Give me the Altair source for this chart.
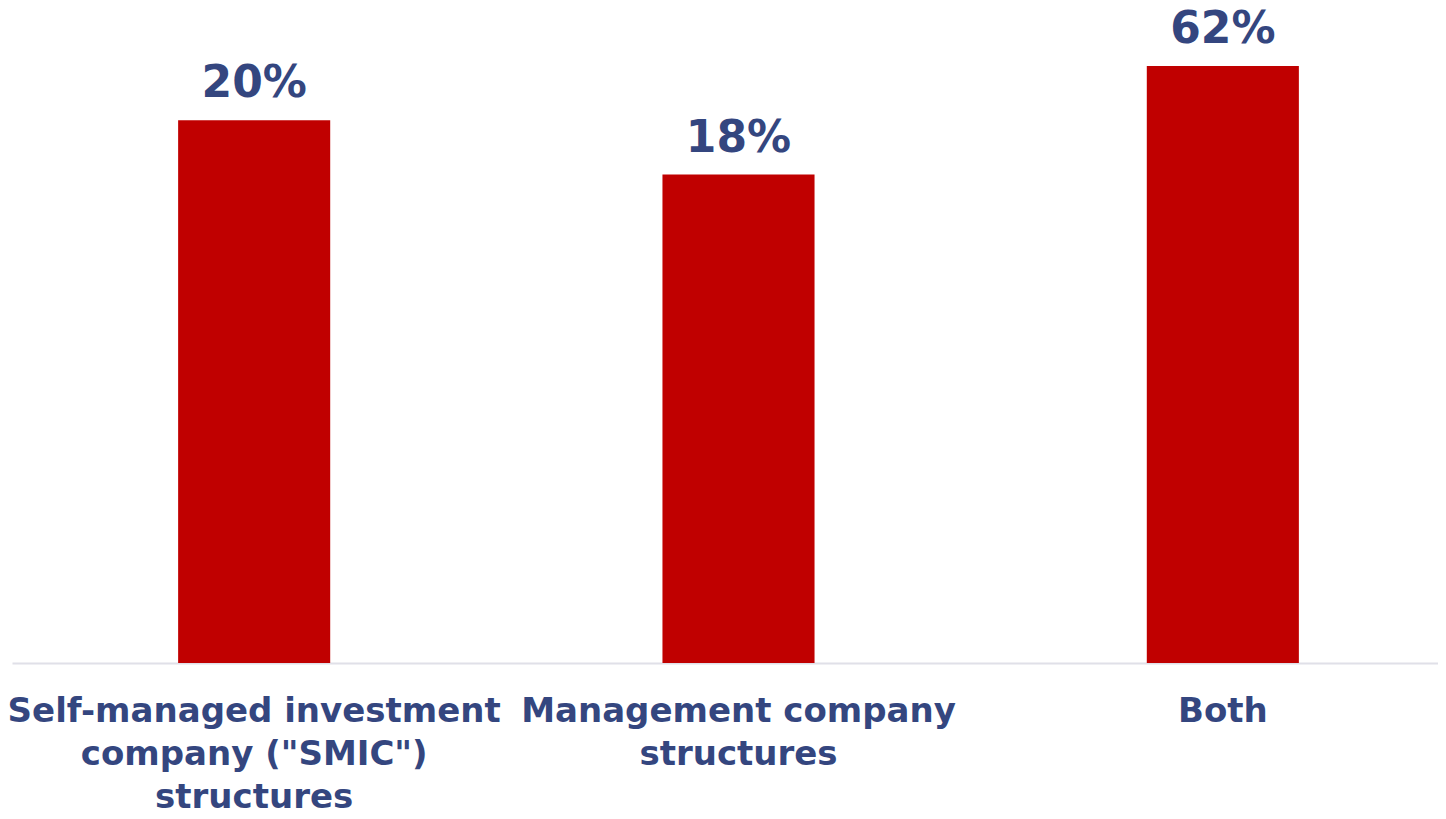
import altair as alt
import pandas as pd

categories = [
    "Self-managed investment\ncompany (\"SMIC\")\nstructures",
    "Management company\nstructures",
    "Both",
]
values = [0.20, 0.18, 0.62]

Y_MAX = 0.22
df = pd.DataFrame({"category": categories, "value": values})

NAVY = "#34467F"
RED = "#C00000"
FONT = "DejaVu Sans"

x_enc = alt.X(
    "category:N",
    sort=categories,
    scale=alt.Scale(paddingInner=0, paddingOuter=0, range=[0, 1453]),
    axis=alt.Axis(
        title=None,
        labelAngle=0,
        labelExpr="split(datum.label, '\\n')",
        labelFont=FONT,
        labelFontSize=34,
        labelFontWeight="bold",
        labelColor=NAVY,
        labelLineHeight=43,
        labelLimit=0,
        labelPadding=31,
        ticks=False,
        domainColor="#E0E0E8",
        domainWidth=2,
        grid=False,
        labelBaseline="top",
    ),
)

base = alt.Chart(df).transform_calculate(
    ypos=f"min(datum.value, {Y_MAX})"
)

bars = base.mark_bar(color=RED, clip=True, width=alt.RelativeBandSize(0.314)).encode(
    x=x_enc,
    y=alt.Y("value:Q", scale=alt.Scale(domain=[0, Y_MAX], nice=False), axis=None),
)

labels = base.mark_text(
    font=FONT, fontSize=44, fontWeight="bold", color=NAVY, baseline="alphabetic", dy=-23
).encode(
    x=alt.X("category:N", sort=categories),
    y=alt.Y("ypos:Q"),
    text=alt.Text("value:Q", format=".0%"),
)

chart = (
    alt.layer(bars, labels)
    .properties(
        width=1426,
        height=597,
        autosize=alt.AutoSizeParams(type="none"),
        padding={"left": 4, "top": 58, "right": 0, "bottom": 148},
    )
    .configure_view(stroke=None)
)

chart.save("out.html", embed_options={"renderer": "svg", "actions": False})
